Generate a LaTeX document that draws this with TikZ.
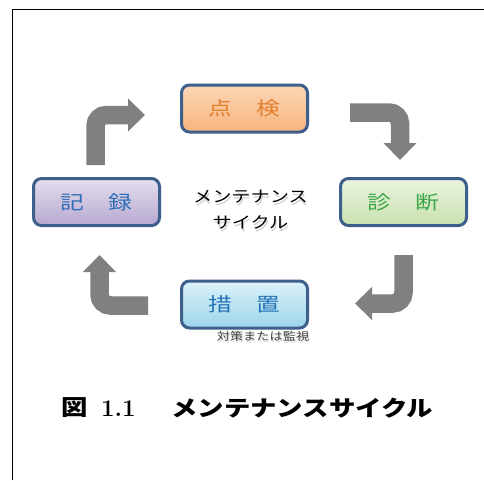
\documentclass[tikz,border=0pt]{standalone}
\usepackage{fontspec}
\usetikzlibrary{arrows.meta}
\newfontfamily\jpbox[FakeStretch=1.25]{Noto Sans CJK JP}
\newfontfamily\jpmid[FakeStretch=1.2]{Noto Sans CJK JP}
\newfontfamily\jpcap[FakeStretch=1.2]{Noto Sans CJK JP}
\definecolor{boxedge}{HTML}{3D5F8C}
\definecolor{arrowgray}{HTML}{808080}
\definecolor{txorange}{HTML}{E2802F}
\definecolor{txpurple}{HTML}{2E6DB4}
\definecolor{txgreen}{HTML}{3AA648}
\definecolor{txblue}{HTML}{2474B8}
\definecolor{orT}{HTML}{FDD6B4}\definecolor{orB}{HTML}{F7B47E}
\definecolor{puT}{HTML}{E4DEEE}\definecolor{puB}{HTML}{B7A8D0}
\definecolor{grT}{HTML}{EAF3DF}\definecolor{grB}{HTML}{C9E1AE}
\definecolor{blT}{HTML}{DCF1F9}\definecolor{blB}{HTML}{9CD5EA}
\tikzset{
  stagebox/.style={draw=boxedge, line width=3pt, rounded corners=8pt,
    minimum width=126pt, minimum height=47pt, inner sep=0pt,
    font=\jpbox\fontsize{19}{19}\selectfont},
  cyclearrow/.style={draw=arrowgray, line width=18.5pt, rounded corners=11pt,
    line cap=butt, -{Triangle[length=17pt,width=32pt]}},
  midtext/.style={font=\jpmid\fontsize{16}{26}\selectfont, align=center, inner sep=0pt},
  captext/.style={font=\jpcap\bfseries\fontsize{22}{22}\selectfont, inner sep=0pt, anchor=west},
}
\begin{document}
\begin{tikzpicture}[x=1pt,y=-1pt]
\useasboundingbox (0,0) rectangle (484,480);
\fill[white] (0,0) rectangle (484,480);
% frame
\draw[line width=1.4pt] (12.5,480) -- (12.5,9.5) -- (484,9.5);

% boxes
\node[stagebox, top color=orT, bottom color=orB, text=txorange]
  (check) at (244.5,108.5) {点　検};
\node[stagebox, top color=puT, bottom color=puB, text=txpurple]
  (record) at (96.5,202) {記　録};
\node[stagebox, top color=grT, bottom color=grB, text=txgreen]
  (diag) at (403.5,202) {診　断};
\node[stagebox, top color=blT, bottom color=blB, text=txblue]
  (action) at (244.5,304.5) {措　置};

% centre text with soft shadow
\node[midtext, text=black, opacity=0.18] at (251.5,213) {メンテナンス\\サイクル};
\node[midtext, text=black] (centre) at (250.5,210) {メンテナンス\\サイクル};

% sub label under action box
\node[font=\jpmid\fontsize{11}{11}\selectfont, text=black, opacity=0.15, inner sep=0pt]
  at (264,338) {対策または監視};
\node[font=\jpmid\fontsize{11}{11}\selectfont, text=black!75, inner sep=0pt]
  (actlabel) at (263,336) {対策または監視};

% arrows
\coordinate (a1s) at (95.5,165);  \coordinate (a1b) at (95.5,115);  \coordinate (a1e) at (145,115);
\coordinate (a2s) at (350,112.5); \coordinate (a2b) at (400,112.5); \coordinate (a2e) at (400,160);
\coordinate (a4s) at (403.5,255); \coordinate (a4b) at (403.5,303.5); \coordinate (a4e) at (355,303.5);
\coordinate (a3s) at (148,305.5); \coordinate (a3b) at (99.5,305.5); \coordinate (a3e) at (99.5,255);
\draw[cyclearrow] (a1s) -- (a1b) -- (a1e);
\draw[cyclearrow] (a2s) -- (a2b) -- (a2e);
\draw[cyclearrow] (a4s) -- (a4b) -- (a4e);
\draw[cyclearrow] (a3s) -- (a3b) -- (a3e);

% caption
\node[captext] (capfig) at (61,408) {図};
\node[font=\bfseries\fontsize{24}{24}\selectfont, inner sep=0pt, anchor=west]
  (capnum) at (101,409) {1.1};
\node[captext] (captext) at (171,408) {メンテナンスサイクル};
\end{tikzpicture}
\end{document}
